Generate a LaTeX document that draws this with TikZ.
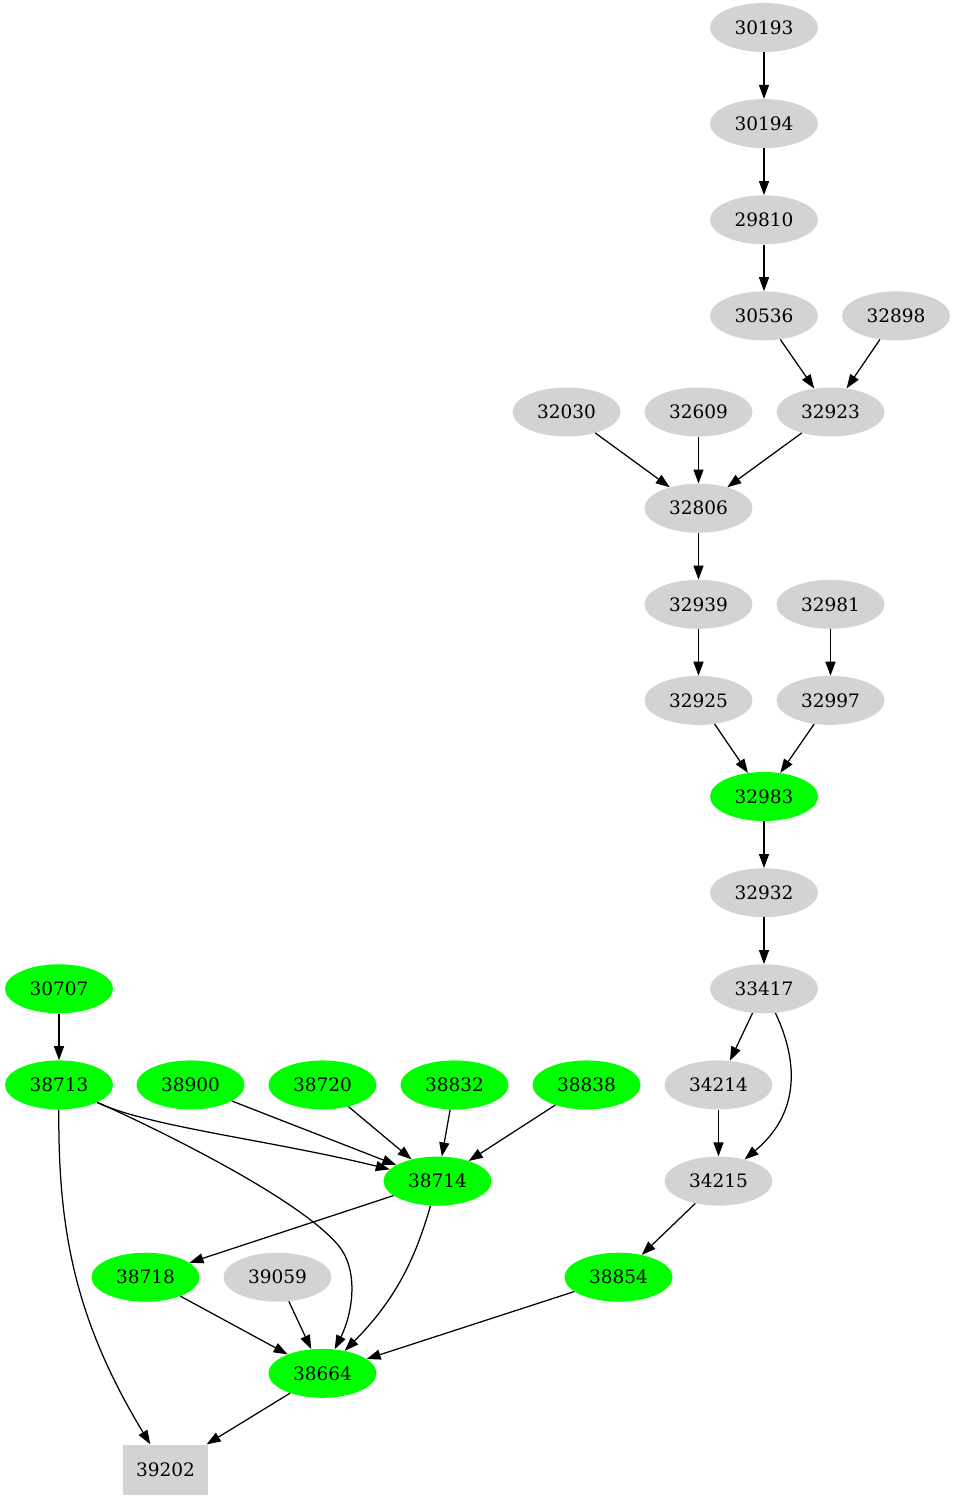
\documentclass[tikz,border=0pt]{standalone}
\usepackage{fontspec}
\setmainfont{DejaVu Serif}
\usetikzlibrary{arrows.meta,shapes.geometric}
\definecolor{lgray}{HTML}{D3D3D3}
\definecolor{lgreen}{HTML}{00FF00}
\tikzset{
  base/.style={ellipse, minimum width=108pt, minimum height=49pt, inner sep=0pt, text=black, font=\fontsize{18.5}{20}\selectfont},
  gnode/.style={base, fill=lgray},
  vnode/.style={base, fill=lgreen},
  bnode/.style={rectangle, minimum width=85pt, minimum height=50pt, inner sep=0pt, fill=lgray, font=\fontsize{18.5}{20}\selectfont},
  edge/.style={draw=black, line width=1.25pt, -{Triangle[length=14pt,width=10pt]}}
}
\begin{document}
\begin{tikzpicture}[x=1pt,y=-1pt]
\useasboundingbox (0,0) rectangle (955,1499);
% rank 0-9
\node[gnode] (n30193) at (764,27.5) {30193};
\node[gnode] (n30194) at (764,123.6) {30194};
\node[gnode] (n29810) at (764,219.8) {29810};
\node[gnode] (n30536) at (764,315.9) {30536};
\node[gnode] (n32898) at (896,315.9) {32898};
\node[gnode] (n32030) at (566.5,412) {32030};
\node[gnode] (n32609) at (698.5,412) {32609};
\node[gnode] (n32923) at (830.5,412) {32923};
\node[gnode] (n32806) at (698.5,508.2) {32806};
\node[gnode] (n32939) at (698.5,604.3) {32939};
\node[gnode] (n32981) at (830.5,604.3) {32981};
\node[gnode] (n32925) at (698.5,700.4) {32925};
\node[gnode] (n32997) at (830.5,700.4) {32997};
\node[vnode] (n32983) at (764,796.5) {32983};
\node[gnode] (n32932) at (764,892.7) {32932};
% rank 10
\node[gnode] (n33417) at (764,988.8) {33417};
\node[vnode] (n30707) at (59,988.8) {30707};
% rank 11
\node[vnode] (n38713) at (59,1084.9) {38713};
\node[vnode] (n38900) at (190.5,1084.9) {38900};
\node[vnode] (n38720) at (322.5,1084.9) {38720};
\node[vnode] (n38832) at (454.5,1084.9) {38832};
\node[vnode] (n38838) at (586.5,1084.9) {38838};
\node[gnode] (n34214) at (718.5,1084.9) {34214};
% rank 12
\node[vnode] (n38714) at (437.5,1181.1) {38714};
\node[gnode] (n34215) at (718.5,1181.1) {34215};
% rank 13
\node[vnode] (n38718) at (145.5,1277.2) {38718};
\node[gnode] (n39059) at (277.5,1277.2) {39059};
\node[vnode] (n38854) at (618.5,1277.2) {38854};
% rank 14
\node[vnode] (n38664) at (322.5,1373.3) {38664};
% rank 15
\node[bnode] (n39202) at (165.5,1469.5) {39202};

% edges
\draw[edge] (n30193) -- (n30194);
\draw[edge] (n30194) -- (n29810);
\draw[edge] (n29810) -- (n30536);
\draw[edge] (n30536) -- (n32923);
\draw[edge] (n32898) -- (n32923);
\draw[edge] (n32030) -- (n32806);
\draw[edge] (n32609) -- (n32806);
\draw[edge] (n32923) -- (n32806);
\draw[edge] (n32806) -- (n32939);
\draw[edge] (n32939) -- (n32925);
\draw[edge] (n32981) -- (n32997);
\draw[edge] (n32925) -- (n32983);
\draw[edge] (n32997) -- (n32983);
\draw[edge] (n32983) -- (n32932);
\draw[edge] (n32932) -- (n33417);
\draw[edge] (n33417) -- (n34214);
\draw[edge] (n33417) .. controls (800,1065) and (798,1115) .. (n34215);
\draw[edge] (n34214) -- (n34215);
\draw[edge] (n34215) -- (n38854);
\draw[edge] (n38854) -- (n38664);
\draw[edge] (n30707) -- (n38713);
\draw[edge] (n38713) .. controls (150,1127) and (270,1140) .. (n38714);
\draw[edge] (n38713) .. controls (170,1135) and (300,1200) .. (338,1245) .. controls (360,1271) and (352,1315) .. (n38664);
\draw[edge] (n38713) .. controls (58,1230) and (75,1320) .. (n39202);
\draw[edge] (n38900) -- (n38714);
\draw[edge] (n38720) -- (n38714);
\draw[edge] (n38832) -- (n38714);
\draw[edge] (n38838) -- (n38714);
\draw[edge] (n38714) -- (n38718);
\draw[edge] (n38714) .. controls (415,1260) and (395,1300) .. (n38664);
\draw[edge] (n38718) -- (n38664);
\draw[edge] (n39059) -- (n38664);
\draw[edge] (n38664) -- (n39202);
\end{tikzpicture}
\end{document}
